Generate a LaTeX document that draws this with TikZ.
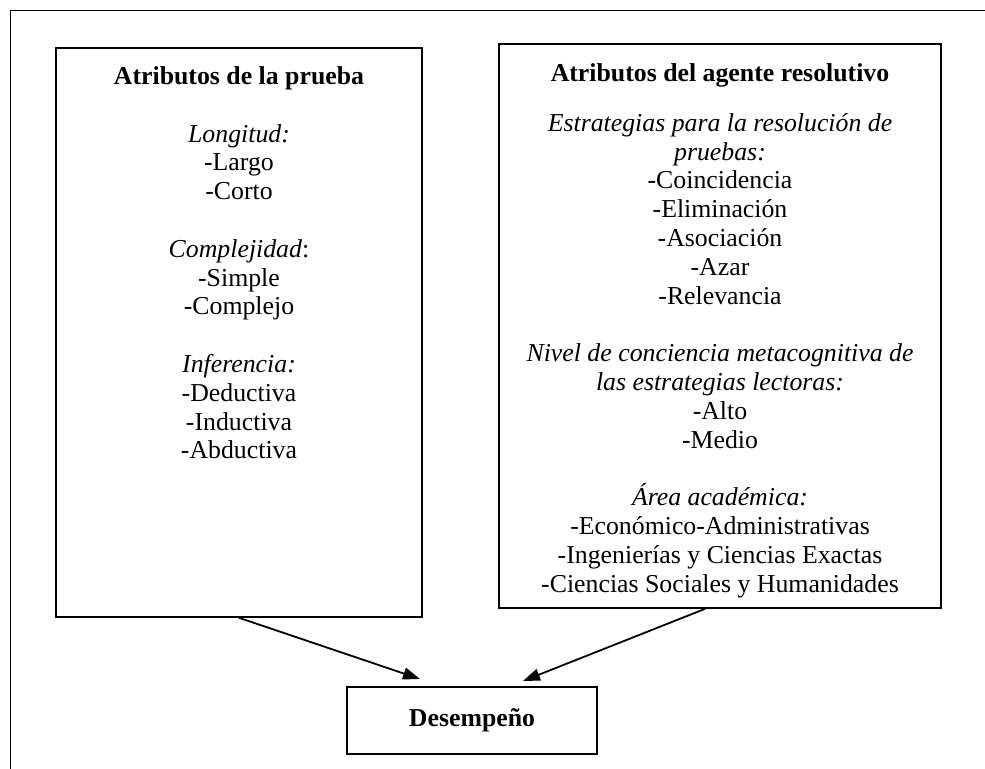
\documentclass[tikz,border=0pt]{standalone}
\usepackage{fontspec}
\setmainfont{Liberation Serif}
\usetikzlibrary{arrows.meta,positioning}

\begin{document}
\begin{tikzpicture}[x=0.5pt,y=-0.5pt]

  % Parameters
  \def\fsize{\fontsize{12.9pt}{14.4pt}\selectfont}
  \def\gap{14.4pt}

  % Styles
  \tikzstyle{box}=[draw,line width=0.8pt,inner sep=0pt]
  \tikzstyle{txt}=[align=center,inner sep=0pt,font=\fsize]
  \tikzstyle{link}=[line width=0.9pt,-{Triangle[length=8.5pt,width=6pt]}]
  \tikzstyle{frame}=[line width=0.6pt]

  \useasboundingbox (0,0) rectangle (985,769);

  % Outer frame
  \draw[frame] (10.5,800) |- (1000,10.7);

  % Boxes
  \node[box,minimum width=183pt,minimum height=284.5pt] (prueba) at (239,332.5) {};
  \node[box,minimum width=221pt,minimum height=282pt] (agente) at (720,326) {};
  \node[box,minimum width=125pt,minimum height=33.5pt,font=\fsize\bfseries] (desempeno) at (472,720.5) {Desempeño};

  % Box contents
  \node[txt,below=9.5pt of prueba.north] (prueba-txt) {\textbf{Atributos de la prueba}\\[\gap]
    \textit{Longitud:}\\-Largo\\-Corto\\[\gap]
    \textit{Complejidad}:\\-Simple\\-Complejo\\[\gap]
    \textit{Inferencia:}\\-Deductiva\\-Inductiva\\-Abductiva};
  \node[txt,below=10pt of agente.north] (agente-txt) {\textbf{Atributos del agente resolutivo}\\[10.5pt]
    \textit{Estrategias para la resolución de}\\\textit{pruebas:}\\-Coincidencia\\-Eliminación\\-Asociación\\-Azar\\-Relevancia\\[\gap]
    \textit{Nivel de conciencia metacognitiva de}\\\textit{las estrategias lectoras:}\\-Alto\\-Medio\\[\gap]
    \textit{Área académica:}\\-Económico-Administrativas\\-Ingenierías y Ciencias Exactas\\-Ciencias Sociales y Humanidades};

  % Arrows
  \coordinate (tipA) at (420,679);
  \coordinate (tipB) at (523,681);
  \draw[link] (prueba.south) -- (tipA);
  \draw[link] (agente.-93) -- (tipB);

\end{tikzpicture}
\end{document}
